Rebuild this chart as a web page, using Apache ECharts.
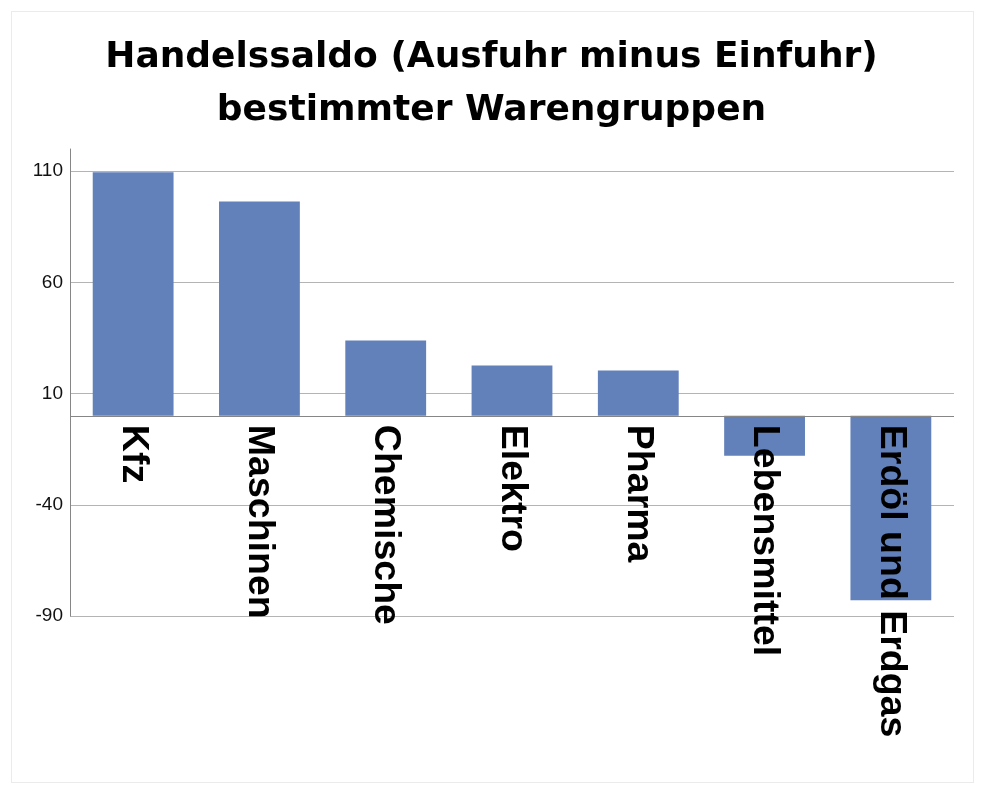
<!DOCTYPE html>
<html><head><meta charset="utf-8">
<script src="https://cdn.jsdelivr.net/npm/echarts@6/dist/echarts.min.js"></script>
<style>
html,body{margin:0;padding:0;background:#fff;}
#c{width:983px;height:793px;}
#frame{position:absolute;left:11px;top:11px;width:961px;height:770px;border:1px solid #ebebeb;pointer-events:none;}
</style></head>
<body>
<div id="c"></div>
<div id="frame"></div>
<script>
const titleText = 'Handelssaldo (Ausfuhr minus Einfuhr)\nbestimmter Warengruppen';
const categories = ['Kfz', 'Maschinen', 'Chemische', 'Elektro', 'Pharma', 'Lebensmittel', 'Erdöl und Erdgas'];
const values = [109.6, 96.4, 33.9, 22.7, 20.4, -17.9, -82.9];
const yMin = -90, yMax = 120, yStep = 50;

const chart = echarts.init(document.getElementById('c'));
chart.setOption({
  backgroundColor: '#ffffff',
  animation: false,
  title: {
    text: titleText,
    left: 'center',
    top: 26,
    textStyle: {fontFamily: 'DejaVu Sans', fontWeight: 'bold', fontSize: 36, lineHeight: 53, color: '#000'}
  },
  grid: {left: 70, right: 29, top: 149, bottom: 177, containLabel: false, outerBoundsMode: 'none'},
  xAxis: {
    type: 'category',
    data: categories,
    z: 5,
    offset: 0,
    axisLine: {show: false, onZero: false},
    axisTick: {show: false},
    axisLabel: {
      rotate: -90, margin: 9, interval: 0, hideOverlap: false,
      fontFamily: 'Liberation Sans', fontWeight: 'bold', fontSize: 37.5, color: '#000'
    },
    splitLine: {show: false}
  },
  yAxis: {
    type: 'value',
    min: yMin, max: yMax, interval: yStep,
    axisLine: {show: true, lineStyle: {color: '#868686', width: 1}},
    axisTick: {show: false},
    axisLabel: {showMaxLabel: false, margin: 7, fontFamily: 'Liberation Sans', fontSize: 19, color: '#111'},
    splitLine: {show: true, showMaxLine: false, lineStyle: {color: '#b4b4b4', width: 1}}
  },
  series: [{
    type: 'bar',
    data: values,
    barCategoryGap: '36%',
    itemStyle: {color: '#6281ba'},
    markLine: {
      silent: true,
      symbol: 'none',
      label: {show: false},
      lineStyle: {color: '#868686', width: 1, type: 'solid'},
      data: [{yAxis: 0}]
    }
  }]
});
const zeroY = chart.convertToPixel({yAxisIndex: 0}, 0);
const botY = chart.convertToPixel({yAxisIndex: 0}, yMin);
chart.setOption({xAxis: {offset: zeroY - botY}});
</script>
</body></html>
